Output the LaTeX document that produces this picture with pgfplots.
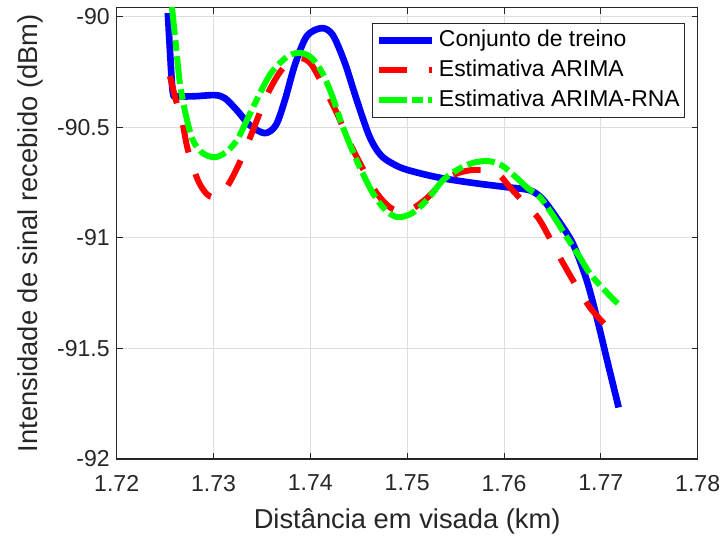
\documentclass[border=0pt]{standalone}
\usepackage{fontspec}
\setmainfont{Liberation Sans}
\usepackage{pgfplots}
\pgfplotsset{compat=1.18}
\definecolor{axgray}{RGB}{38,38,38}
\definecolor{gridgray}{RGB}{222,222,222}

\begin{document}
\begin{tikzpicture}
\begin{axis}[
    scale only axis,
    width=435.75pt, height=338.6pt,
    xmin=1.72, xmax=1.78,
    ymin=-92, ymax=-89.959,
    xtick={1.72,1.73,1.74,1.75,1.76,1.77,1.78},
    xticklabels={1.72,1.73,1.74,1.75,1.76,1.77,1.78},
    ytick={-92,-91.5,-91,-90.5,-90},
    yticklabels={-92,-91.5,-91,-90.5,-90},
    tick align=inside,
    tick pos=both,
    major tick length=4.5pt,
    every tick/.style={axgray, line width=0.6pt},
    axis line style={axgray, line width=0.8pt},
    grid=major,
    major grid style={gridgray, line width=0.6pt},
    ticklabel style={font=\fontsize{17.3}{20}\selectfont, text=axgray},
    xticklabel style={yshift=-8.5pt},
    yticklabel style={xshift=-1.7pt},
    label style={font=\fontsize{20.5}{24}\selectfont, text=axgray},
    xlabel={Distância em visada (km)},
    ylabel={Intensidade de sinal recebido (dBm)},
    xlabel style={at={(axis description cs:0.5,-0.155)}, anchor=base},
    ylabel style={at={(axis description cs:-0.1355,0.5)}, anchor=base},
    legend style={
        at={(axis description cs:0.978,0.9657)}, anchor=north east,
        font=\fontsize{17.2}{20}\selectfont,
        draw=axgray, line width=0.6pt, fill=white,
        inner xsep=2.5pt, inner ysep=1.5pt,
        column sep=1.75pt,
        nodes={inner xsep=1pt, inner ysep=3pt, text height=13pt, text depth=3.5pt},
    },
    legend cell align=left,
    legend image code/.code={\draw[#1] (0pt,0pt) -- (40pt,0pt);},
]

% conjunto de treino
\addplot[blue, line width=5pt, line join=round, smooth, tension=0.5] coordinates {
    (1.72529,-89.984) (1.72550,-90.150) (1.72581,-90.346) (1.72633,-90.360)
    (1.72810,-90.360) (1.73014,-90.355) (1.73118,-90.369) (1.73241,-90.423)
    (1.73376,-90.491) (1.73530,-90.527) (1.73644,-90.491) (1.73737,-90.378)
    (1.73840,-90.219) (1.73964,-90.088) (1.74120,-90.052) (1.74233,-90.084)
    (1.74357,-90.210) (1.74480,-90.378) (1.74614,-90.545) (1.74738,-90.631)
    (1.74924,-90.681) (1.75130,-90.708) (1.75367,-90.731) (1.75697,-90.753)
    (1.76028,-90.771) (1.76265,-90.785) (1.76390,-90.821) (1.76524,-90.898)
    (1.76710,-91.025) (1.76854,-91.192) (1.76958,-91.360) (1.77070,-91.563)
    (1.77184,-91.767)
};
\addlegendentry{Conjunto de treino}

% estimativa ARIMA
\addplot[red, line width=4.5pt, line join=round, smooth, tension=0.5,
    dash pattern=on 21pt off 17pt] coordinates {
    (1.72550,-90.269) (1.72612,-90.378) (1.72674,-90.468) (1.72736,-90.604)
    (1.72839,-90.740) (1.72932,-90.803) (1.73004,-90.817) (1.73087,-90.803)
    (1.73190,-90.731) (1.73304,-90.627) (1.73428,-90.491) (1.73552,-90.355)
    (1.73686,-90.251) (1.73810,-90.197) (1.73913,-90.188) (1.74016,-90.219)
    (1.74171,-90.346) (1.74284,-90.446) (1.74408,-90.572) (1.74552,-90.695)
    (1.74687,-90.799) (1.74821,-90.862) (1.74955,-90.885) (1.75079,-90.862)
    (1.75213,-90.817) (1.75337,-90.762) (1.75470,-90.717) (1.75646,-90.695)
    (1.75853,-90.695) (1.75956,-90.717) (1.76059,-90.771) (1.76214,-90.844)
    (1.76370,-90.921) (1.76576,-91.088) (1.76731,-91.206) (1.76886,-91.314)
    (1.77041,-91.391) (1.77175,-91.441)
};
\addlegendentry{Estimativa ARIMA}

% estimativa ARIMA-RNA
\addplot[green, line width=4.5pt, line join=round, smooth, tension=0.5,
    dash pattern=on 21pt off 4pt on 8pt off 4pt] coordinates {
    (1.72571,-89.957) (1.72612,-90.129) (1.72653,-90.301) (1.72715,-90.446)
    (1.72787,-90.559) (1.72891,-90.618) (1.73014,-90.636) (1.73128,-90.613)
    (1.73242,-90.559) (1.73355,-90.459) (1.73480,-90.346) (1.73593,-90.256)
    (1.73717,-90.197) (1.73810,-90.170) (1.73913,-90.165) (1.74016,-90.188)
    (1.74120,-90.251) (1.74223,-90.355) (1.74337,-90.500) (1.74492,-90.663)
    (1.74647,-90.799) (1.74780,-90.876) (1.74904,-90.907) (1.75049,-90.889)
    (1.75204,-90.830) (1.75369,-90.740) (1.75544,-90.686) (1.75699,-90.659)
    (1.75854,-90.654) (1.75989,-90.676) (1.76113,-90.722) (1.76247,-90.776)
    (1.76371,-90.817) (1.76505,-90.898) (1.76649,-90.998) (1.76783,-91.088)
    (1.76886,-91.161) (1.77041,-91.238) (1.77175,-91.297)
};
\addlegendentry{Estimativa ARIMA-RNA}

\end{axis}
\path (-87.5pt,-63pt) rectangle (457pt,344.25pt);
\end{tikzpicture}
\end{document}
